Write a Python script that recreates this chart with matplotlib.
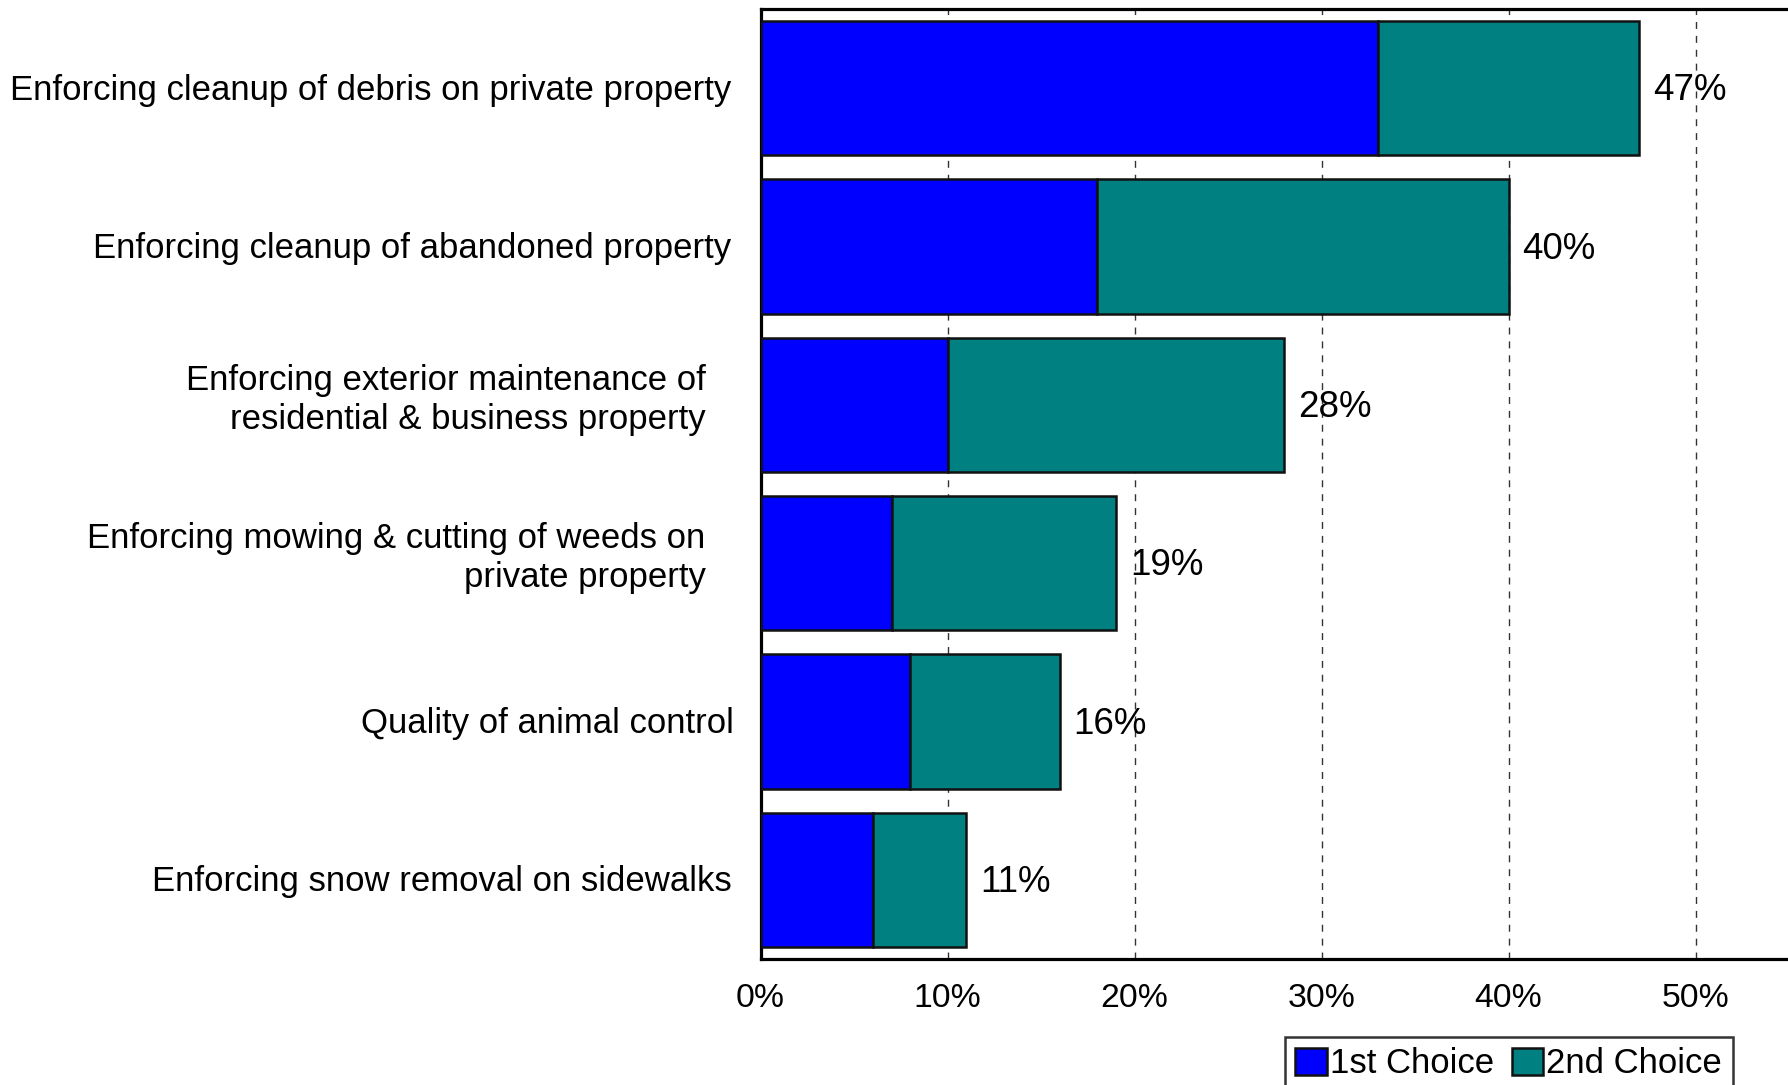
import matplotlib.pyplot as plt
from matplotlib.ticker import PercentFormatter
from matplotlib.transforms import blended_transform_factory

plt.rcParams['font.family'] = ['Liberation Sans', 'DejaVu Sans']

# Survey results (percent of respondents)
items = [
    "Enforcing cleanup of debris on private property",
    "Enforcing cleanup of abandoned property",
    "Enforcing exterior maintenance of\nresidential & business property",
    "Enforcing mowing & cutting of weeds on\nprivate property",
    "Quality of animal control",
    "Enforcing snow removal on sidewalks",
]
first_choice = [33, 18, 10, 7, 8, 6]
total = [47, 40, 28, 19, 16, 11]
second_choice = [t - f for t, f in zip(total, first_choice)]

fig = plt.figure(figsize=(17.88, 10.85), dpi=100)
ax = fig.add_axes([0.4254, 0.1161, 0.6275, 0.8756])

y = list(range(len(items)))
ax.barh(y, first_choice, height=0.85, color='#0000ff', edgecolor='#111111',
        linewidth=1.8, label='1st Choice', zorder=3)
ax.barh(y, second_choice, left=first_choice, height=0.85, color='#008080',
        edgecolor='#111111', linewidth=1.8, label='2nd Choice', zorder=3)

for yi, t in zip(y, total):
    ax.annotate(f"{t}%", (t, yi), xytext=(10, -2), textcoords='offset points',
                va='center', ha='left', fontsize=26.5)

ax.set_xlim(0, 60)
ax.set_ylim(len(items) - 0.5, -0.5)
ax.set_xticks([0, 10, 20, 30, 40, 50])
ax.xaxis.set_major_formatter(PercentFormatter(decimals=0))
ax.tick_params(axis='x', length=0, pad=17, labelsize=24.3)
ax.set_yticks([])

# category labels sit left of the axis; the two-line ones are pulled in further
trans = blended_transform_factory(ax.transAxes, ax.transData)
for yi, text in zip(y, items):
    two_line = '\n' in text
    dx = -55 if two_line else -29
    dy = 5 if two_line else -2
    if text.startswith('Quality'):
        dx = -27
    ax.annotate(text, (0, yi), xycoords=trans, xytext=(dx, dy),
                textcoords='offset pixels', ha='right', va='center',
                fontsize=25, linespacing=1.24, multialignment='right')

ax.grid(axis='x', linestyle=(0, (5, 5)), color='#333333', linewidth=1.0, zorder=0)
ax.set_axisbelow(True)
for side in ['left', 'top', 'bottom']:
    ax.spines[side].set_linewidth(2.3)
ax.spines['right'].set_visible(False)

leg = fig.legend(loc='upper left', bbox_to_anchor=(0.7187, 0.0443), ncol=2,
                 fontsize=25, frameon=True, fancybox=False, edgecolor='black',
                 handlelength=0.9, handleheight=0.8, handletextpad=0.1,
                 columnspacing=0.5, borderpad=0.3, borderaxespad=0)
leg.get_frame().set_linewidth(1.8)

fig.savefig('out.png', dpi=100)
